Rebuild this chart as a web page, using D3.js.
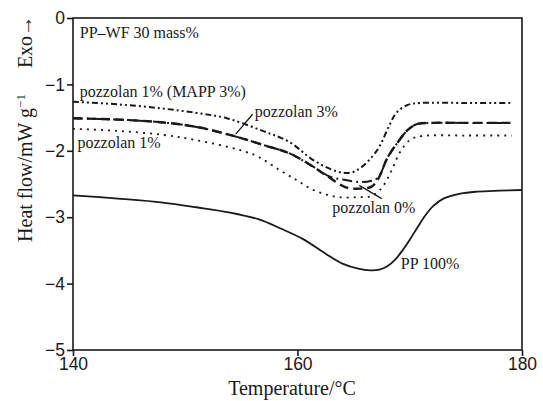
<!DOCTYPE html>
<html>
<head>
<meta charset="UTF-8">
<script src="https://cdn.jsdelivr.net/npm/d3@7"></script>
<style>
  body { margin: 0; background: #fff; }
  svg { font-family: "Liberation Serif", "Times New Roman", serif; }
  .axis line { stroke: #1a1a1a; stroke-width: 1.6px; }
  .axis text { font-size: 17.5px; fill: #1a1a1a; }
  .curve { fill: none; stroke: #1a1a1a; }
  .lbl { font-size: 16px; fill: #1a1a1a; }
</style>
</head>
<body>
<div id="chart"></div>
<script>
// temperature (°C) / heat flow (mW g-1) pairs
var ppTemp = [140, 144, 148, 151, 154, 156.5, 158.5, 160.5, 162.5, 164, 165.5, 166.5, 167.3, 168, 168.7, 169.4, 170, 170.7, 171.4, 172.1, 173, 174.5, 176, 178, 180];
var ppFlow = [-2.67, -2.72, -2.78, -2.85, -2.93, -3.03, -3.17, -3.33, -3.55, -3.70, -3.78, -3.80, -3.79, -3.74, -3.64, -3.49, -3.34, -3.15, -2.97, -2.83, -2.72, -2.645, -2.615, -2.60, -2.59];

var mappTemp = [140, 144, 147.8, 151, 153.7, 156.9, 159.3, 161.4, 163.5, 164.7, 165.6, 167.1, 168.2, 168.8, 169.8, 171, 175, 179.1];
var mappFlow = [-1.26, -1.30, -1.36, -1.43, -1.51, -1.70, -1.87, -2.14, -2.31, -2.33, -2.26, -1.99, -1.61, -1.43, -1.31, -1.28, -1.28, -1.28];

var p3Temp = [140, 144, 147.8, 151, 154.6, 156.9, 159.3, 161.4, 162.9, 164.3, 165.6, 166.6, 167.2, 168.0, 168.9, 169.8, 170.6, 172, 175, 179.1];
var p3Flow = [-1.51, -1.53, -1.57, -1.64, -1.79, -1.91, -2.04, -2.24, -2.39, -2.44, -2.47, -2.45, -2.40, -2.11, -1.88, -1.69, -1.60, -1.58, -1.58, -1.58];

var p0Temp = [140, 144, 147.8, 151, 154.6, 156.9, 159.3, 161.4, 162.9, 164.3, 165.6, 166.6, 167.2, 168.0, 168.9, 169.8, 170.6, 172, 175, 179.1];
var p0Flow = [-1.51, -1.53, -1.57, -1.64, -1.79, -1.91, -2.04, -2.24, -2.41, -2.55, -2.57, -2.54, -2.42, -2.11, -1.88, -1.69, -1.60, -1.58, -1.58, -1.58];

var p1Temp = [140, 144, 148, 151, 154.9, 156.5, 158.4, 160, 161.4, 162.6, 163.8, 165.3, 166.6, 167.5, 168.4, 169.1, 170, 171, 175, 179.1];
var p1Flow = [-1.67, -1.70, -1.76, -1.84, -1.99, -2.09, -2.29, -2.45, -2.59, -2.66, -2.70, -2.70, -2.68, -2.56, -2.29, -2.03, -1.84, -1.78, -1.77, -1.77];

var xTicks = [140, 160, 180];
var yTicks = [0, -1, -2, -3, -4, -5];

var W = 543, H = 401;
var margin = { top: 18, right: 21, bottom: 51, left: 73 };
var w = W - margin.left - margin.right;
var h = H - margin.top - margin.bottom;

var svg = d3.select("#chart").append("svg")
  .attr("width", W).attr("height", H);
var g = svg.append("g")
  .attr("transform", "translate(" + margin.left + "," + margin.top + ")");

var x = d3.scaleLinear().domain([140, 180]).range([0, w]);
var y = d3.scaleLinear().domain([-5, 0]).range([h, 0]);

function pairs(ts, vs) {
  return ts.map(function(t, i) { return [t, vs[i]]; });
}

var line = d3.line()
  .x(function(d) { return x(d[0]); })
  .y(function(d) { return y(d[1]); })
  .curve(d3.curveCatmullRom.alpha(0.5));

var series = [
  { pts: pairs(ppTemp, ppFlow), dash: null, sw: 1.8 },
  { pts: pairs(mappTemp, mappFlow), dash: "6,3,2,3,2,3", sw: 2 },
  { pts: pairs(p1Temp, p1Flow), dash: "2,5", sw: 1.8 },
  { pts: pairs(p0Temp, p0Flow), dash: "9,5", sw: 2.4 },
  { pts: pairs(p3Temp, p3Flow), dash: "10,4,2,4", sw: 2 }
];

g.selectAll(".curve").data(series).enter()
  .append("path")
  .attr("class", "curve")
  .attr("d", function(d) { return line(d.pts); })
  .attr("stroke-width", function(d) { return d.sw; })
  .attr("stroke-dasharray", function(d) { return d.dash; });

// frame
g.append("rect")
  .attr("width", w).attr("height", h)
  .attr("fill", "none").attr("stroke", "#1a1a1a").attr("stroke-width", 1.6);

var xAxis = d3.axisBottom(x).tickValues(xTicks).tickFormat(d3.format("d")).tickSize(6).tickPadding(2);
var yAxis = d3.axisLeft(y).tickValues(yTicks).tickFormat(d3.format("d")).tickSize(6).tickPadding(2);

g.append("g").attr("class", "x axis")
  .attr("transform", "translate(0," + h + ")")
  .call(xAxis)
  .call(function(s) { s.select(".domain").remove(); });

g.append("g").attr("class", "y axis")
  .call(yAxis)
  .call(function(s) { s.select(".domain").remove(); });

// axis titles
svg.append("text")
  .attr("x", 292).attr("y", 395)
  .attr("text-anchor", "middle")
  .style("font-size", "20px").attr("fill", "#1a1a1a")
  .text("Temperature/°C");

var yt = svg.append("text")
  .attr("transform", "translate(32,168) rotate(-90)")
  .attr("text-anchor", "middle")
  .style("font-size", "20px").attr("fill", "#1a1a1a");
yt.append("tspan").text("Heat flow/mW g");
yt.append("tspan").attr("dy", -7).style("font-size", "13px").text("−1");

svg.append("text")
  .attr("transform", "translate(32,42) rotate(-90)")
  .attr("text-anchor", "middle")
  .style("font-size", "20px").attr("fill", "#1a1a1a")
  .text("Exo→");

// in-plot labels
var labels = [
  { t: "PP–WF 30 mass%", tx: 140.6, v: -0.3 },
  { t: "pozzolan 1% (MAPP 3%)", tx: 140.6, v: -1.19 },
  { t: "pozzolan 1%", tx: 140.4, v: -1.96 },
  { t: "pozzolan 3%", tx: 156.2, v: -1.49 },
  { t: "pozzolan 0%", tx: 163.1, v: -2.94 },
  { t: "PP 100%", tx: 169.2, v: -3.78 }
];
g.selectAll(".lbl").data(labels).enter()
  .append("text")
  .attr("class", "lbl")
  .attr("x", function(d) { return x(d.tx); })
  .attr("y", function(d) { return y(d.v); })
  .text(function(d) { return d.t; });

// leader lines
var leaders = [
  [[154.5, -1.75], [156, -1.45]],
  [[165.5, -2.52], [167.5, -2.72]]
];
g.selectAll(".leader").data(leaders).enter()
  .append("line")
  .attr("x1", function(d) { return x(d[0][0]); })
  .attr("y1", function(d) { return y(d[0][1]); })
  .attr("x2", function(d) { return x(d[1][0]); })
  .attr("y2", function(d) { return y(d[1][1]); })
  .attr("stroke", "#1a1a1a").attr("stroke-width", 1.3);
</script>
</body>
</html>
